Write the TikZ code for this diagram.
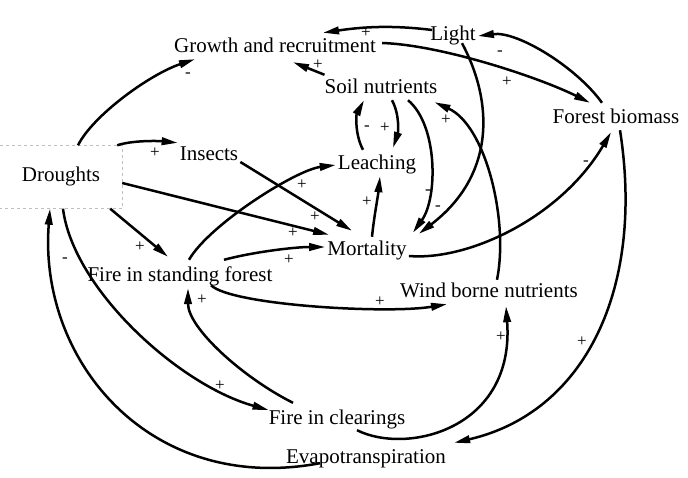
\documentclass[tikz,border=0pt]{standalone}
\usepackage{fontspec}
\setmainfont{Liberation Serif}
\usetikzlibrary{arrows.meta}

\begin{document}
\begin{tikzpicture}
        [x=1pt, y=-1pt,
        var/.style={inner sep=2pt, text height=14pt, text depth=4pt, font=\fontsize{21}{25}\selectfont},
        sign/.style={inner sep=0pt, font=\fontsize{17}{19}\selectfont},
        link/.style={line width=2.5pt, black, -{Triangle[length=16pt,width=7.5pt]}},
        faint/.style={black!25, thick, dashed}]

        \useasboundingbox (0,0) rectangle (688,478);

        % Variables of the loop diagram
        \node[var] (growth) at (275,48) {Growth and recruitment};
        \node[var] (light) at (453,36) {Light};
        \node[var] (soil) at (381,89) {Soil nutrients};
        \node[var] (forest) at (616,119) {Forest biomass};
        \node[var] (insects) at (209,156) {Insects};
        \node[var, minimum width=122pt, minimum height=63pt] (droughts) at (61,177) {Droughts};
        \node[var] (leaching) at (377,165) {Leaching};
        \node[var] (mortality) at (367,251) {Mortality};
        \node[var] (firestand) at (180,277) {Fire in standing forest};
        \node[var] (wind) at (489,293) {Wind borne nutrients};
        \node[var] (fireclear) at (337,419) {Fire in clearings};
        \node[var] (evapo) at (366,458) {Evapotranspiration};

        % faint frame round Droughts
        \draw[faint] (droughts.north west) -- (droughts.north east) -- (droughts.south east) -- (droughts.south west);

        % links from Droughts
        \draw[link] ([xshift=17pt]droughts.north) .. controls +(15,-30) and +(-45,15) .. ([xshift=-80pt]growth.south);
        \draw[link] ([xshift=-5pt]droughts.north east) .. controls +(15,-5) and +(-20,-2) .. ([yshift=2pt]insects.north west);
        \draw[link] ([yshift=-6pt]droughts.east) -- ([xshift=4pt,yshift=5pt]mortality.north west);
        \draw[link] ([xshift=-12pt]droughts.south east) -- ([xshift=-12pt,yshift=9pt]firestand.north);
        \draw[link] ([xshift=2pt]droughts.south) .. controls +(10,80) and +(-90,-25) .. ([xshift=2pt,yshift=9pt]fireclear.west);

        % insects and fire
        \draw[link] ([yshift=-6pt]insects.east) -- ([xshift=-15pt,yshift=9pt]mortality.north);
        \draw[link] ([xshift=9pt,yshift=6pt]firestand.north) .. controls +(20,-35) and +(-40,5) .. (leaching.west);
        \draw[link] ([xshift=44pt,yshift=6pt]firestand.north) .. controls +(30,-8) and +(-30,0) .. ([yshift=4pt]mortality.west);
        \draw[link] ([xshift=31pt,yshift=3pt]firestand.south) .. controls +(20,20) and +(-60,10) .. ([xshift=-42pt]wind.south);
        \draw[link] ([xshift=-44pt,yshift=5pt]fireclear.north) .. controls +(-50,-25) and +(0,40) .. ([xshift=8pt]firestand.south);
        \draw[link] ([xshift=20pt]fireclear.south) .. controls +(50,25) and +(9,123) .. ([xshift=17pt,yshift=-2pt]wind.south);

        % nutrients
        \draw[link] ([xshift=5pt,yshift=3pt]mortality.north) .. controls +(2,-20) and +(-2,20) .. ([xshift=3pt]leaching.south);
        \draw[link] ([xshift=11pt]soil.south) .. controls +(8,15) and +(5,-15) .. ([xshift=16pt,yshift=6pt]leaching.north);
        \draw[link] ([xshift=-14pt,yshift=4pt]leaching.north) .. controls +(-8,-15) and +(-8,15) .. ([xshift=-17pt]soil.south);
        \draw[link] ([xshift=27pt]soil.south) .. controls +(30,25) and +(25,-35) .. ([xshift=4pt,yshift=7pt]mortality.north east);
        \draw[link] ([xshift=8pt,yshift=2pt]wind.north) .. controls +(12,-60) and +(51,23) .. ([xshift=-5pt,yshift=-2pt]soil.south east);
        \draw[link] ([xshift=2pt,yshift=3pt]soil.north west) -- ([xshift=18pt,yshift=-3pt]growth.south);

        % light and biomass
        \draw[link] ([xshift=9pt,yshift=4pt]light.south) .. controls +(32,60) and +(76,-58) .. ([xshift=10pt,yshift=6pt]mortality.north east);
        \draw[link] ([xshift=4pt,yshift=6pt]light.west) .. controls +(-40,-5) and +(40,-6) .. ([xshift=48pt,yshift=4pt]growth.north);
        \draw[link] ([yshift=-5pt]mortality.east) .. controls +(60,5) and +(-50,85) .. ([xshift=-5pt,yshift=-2pt]forest.south);
        \draw[link] ([xshift=-14pt,yshift=5pt]forest.north) .. controls +(-25,-35) and +(40,-5) .. (light.east);
        \draw[link] ([xshift=4pt,yshift=5pt]growth.east) .. controls +(60,2) and +(-50,-25) .. ([xshift=-26pt,yshift=5pt]forest.north);
        \draw[link] ([xshift=4pt]forest.south) .. controls +(25,160) and +(130,-30) .. ([xshift=6pt,yshift=4pt]evapo.north east);
        \draw[link] ([xshift=-46pt,yshift=6pt]evapo.south) .. controls +(-170,32) and +(-12,152) .. ([xshift=-11pt]droughts.south);

        % signs of the links
        \node[sign] (s1) at (188,75) {-};
        \node[sign] (s2) at (155,153) {+};
        \node[sign] (s3) at (293,233) {+};
        \node[sign] (s4) at (315,217) {+};
        \node[sign] (s5) at (140,247) {+};
        \node[sign] (s6) at (302,185) {+};
        \node[sign] (s7) at (289,260) {+};
        \node[sign] (s8) at (380,302) {+};
        \node[sign] (s9) at (367,202) {+};
        \node[sign] (s10) at (385,128) {+};
        \node[sign] (s11) at (367,128) {-};
        \node[sign] (s12) at (428,192) {-};
        \node[sign] (s13) at (438,208) {-};
        \node[sign] (s14) at (446,120) {+};
        \node[sign] (s15) at (586,163) {-};
        \node[sign] (s16) at (500,53) {-};
        \node[sign] (s17) at (507,82) {+};
        \node[sign] (s18) at (366,33) {+};
        \node[sign] (s19) at (318,65) {+};
        \node[sign] (s20) at (582,342) {+};
        \node[sign] (s21) at (501,337) {+};
        \node[sign] (s22) at (202,300) {+};
        \node[sign] (s23) at (220,386) {+};
        \node[sign] (s24) at (65,260) {-};

    \end{tikzpicture}
\end{document}
